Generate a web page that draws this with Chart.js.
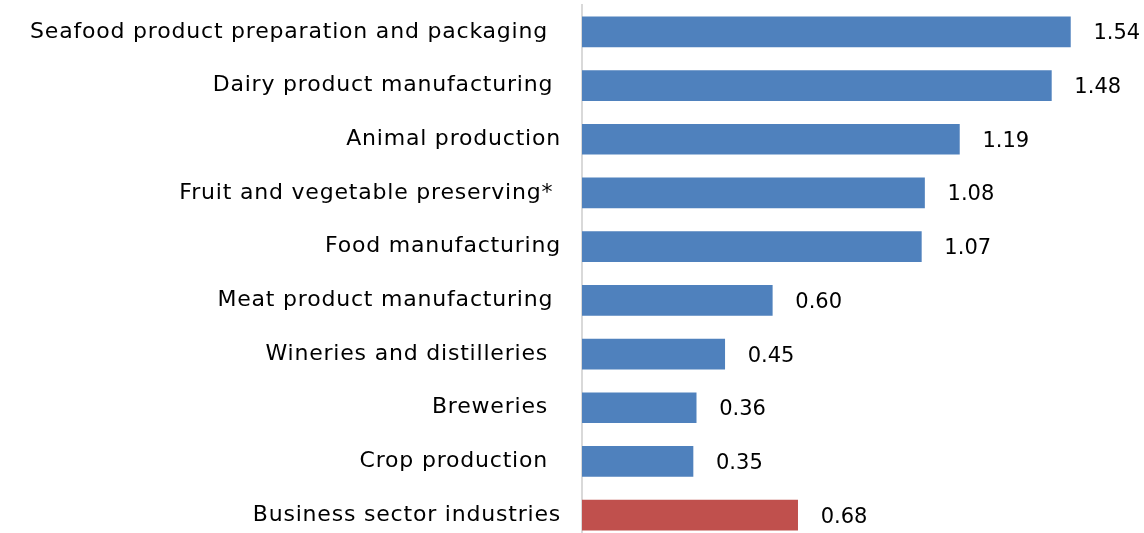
<!DOCTYPE html>
<html>
<head>
<meta charset="utf-8">
<script src="https://cdn.jsdelivr.net/npm/chart.js@4"></script>
<style>
    html, body { margin: 0; padding: 0; background: #fff; overflow: hidden; }
    #wrap { width: 1144px; height: 542px; }
</style>
</head>
<body>
<div id="wrap"><canvas id="chartIndustries" width="1144" height="542"></canvas></div>
<script>
// industry labels (trailing spaces kept as in the original layout)
const industries = [
    'Seafood product preparation and packaging \u2009',
    'Dairy product manufacturing ',
    'Animal production',
    'Fruit and vegetable preserving* ',
    'Food manufacturing',
    'Meat product manufacturing ',
    'Wineries and distilleries \u2009',
    'Breweries \u2009',
    'Crop production \u2009',
    'Business sector industries'
];
const values = [1.54, 1.48, 1.19, 1.08, 1.07, 0.60, 0.45, 0.36, 0.35, 0.68];
const barColors = ['#4F81BD', '#4F81BD', '#4F81BD', '#4F81BD', '#4F81BD',
                   '#4F81BD', '#4F81BD', '#4F81BD', '#4F81BD', '#C0504D'];

const fontFamily = '"DejaVu Sans", sans-serif';

// slightly wider letters, closer to the original Century Gothic look
const letterSpace = {
    id: 'letterSpace',
    beforeUpdate(chart) { chart.ctx.letterSpacing = '0.8px'; },
    beforeDraw(chart) { chart.ctx.letterSpacing = '0.8px'; }
};

// value labels to the right of each bar
const valueLabels = {
    id: 'valueLabels',
    afterDatasetsDraw(chart) {
        const ctx = chart.ctx;
        const meta = chart.getDatasetMeta(0);
        ctx.save();
        ctx.letterSpacing = '0px';
        ctx.font = '21px ' + fontFamily;
        ctx.fillStyle = '#000';
        ctx.textAlign = 'left';
        ctx.textBaseline = 'middle';
        meta.data.forEach(function(bar, i) {
            ctx.fillText(values[i].toFixed(2), bar.x + 23, bar.y + 2);
        });
        ctx.restore();
    }
};

const ctxIndustries = document.getElementById('chartIndustries').getContext('2d');
const industryChart = new Chart(ctxIndustries, {
    type: 'bar',
    data: {
        labels: industries,
        datasets: [{
            data: values,
            backgroundColor: barColors,
            borderWidth: 0,
            barThickness: 30
        }]
    },
    options: {
        indexAxis: 'y',
        responsive: false,
        animation: false,
        layout: { padding: { top: 5, right: 7, bottom: 0, left: 0 } },
        plugins: {
            legend: { display: false },
            tooltip: { enabled: false }
        },
        scales: {
            x: { display: false, min: 0, max: 1.75 },
            y: {
                afterFit: function(scale) {
                    scale.width = 582;
                    scale.paddingTop = 0;
                    scale.paddingBottom = 0;
                },
                grid: { display: false, drawTicks: false },
                border: { display: true, color: '#d9d9d9', width: 2 },
                ticks: {
                    padding: 21,
                    color: '#000',
                    font: { family: fontFamily, size: 22 }
                }
            }
        }
    },
    plugins: [letterSpace, valueLabels]
});
</script>
</body>
</html>
